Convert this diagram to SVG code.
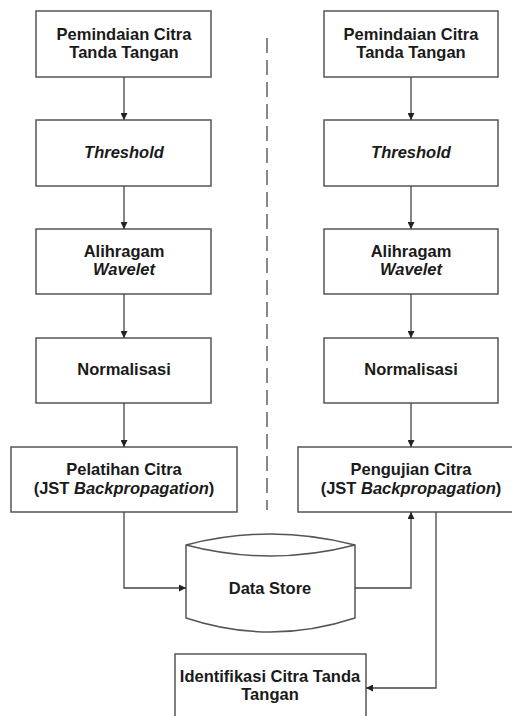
<svg xmlns="http://www.w3.org/2000/svg" width="512" height="716" viewBox="0 0 512 716">
<style>
.box{fill:#fff;stroke:#555;stroke-width:1.5}
.t{font-family:"Liberation Sans",Arial,sans-serif;font-weight:bold;font-size:16.5px;fill:#1a1a1a;text-anchor:middle}
.i{font-style:italic}
.c{fill:none;stroke:#444;stroke-width:1.3}
</style>
<defs>
<marker id="ah" viewBox="0 0 10 10" refX="10" refY="5" markerWidth="7" markerHeight="7" markerUnits="userSpaceOnUse" orient="auto">
<path d="M0,0 L10,5 L0,10 z" fill="#222"/>
</marker>
</defs>
<rect width="512" height="716" fill="#fff"/>
<line x1="267" y1="38" x2="267" y2="510" stroke="#888" stroke-width="2" stroke-dasharray="15,7"/>

<g id="L1"><rect class="box" x="36" y="11" width="175" height="66"/>
<text class="t" x="124" y="40">Pemindaian Citra</text><text class="t" x="124" y="58">Tanda Tangan</text></g>
<g id="L2"><rect class="box" x="36" y="120" width="175" height="66"/>
<text class="t i" x="124" y="158">Threshold</text></g>
<g id="L3"><rect class="box" x="36" y="229" width="175" height="65"/>
<text class="t" x="124" y="257">Alihragam</text><text class="t i" x="124" y="275">Wavelet</text></g>
<g id="L4"><rect class="box" x="36" y="338" width="175" height="65"/>
<text class="t" x="124" y="375">Normalisasi</text></g>
<g id="L5"><rect class="box" x="11" y="447" width="226" height="65"/>
<text class="t" x="124" y="475">Pelatihan Citra</text><text class="t" x="124" y="494">(JST <tspan class="i">Backpropagation</tspan>)</text></g>

<g id="R1"><rect class="box" x="324" y="11" width="174" height="66"/>
<text class="t" x="411" y="40">Pemindaian Citra</text><text class="t" x="411" y="58">Tanda Tangan</text></g>
<g id="R2"><rect class="box" x="324" y="120" width="174" height="66"/>
<text class="t i" x="411" y="158">Threshold</text></g>
<g id="R3"><rect class="box" x="324" y="229" width="174" height="65"/>
<text class="t" x="411" y="257">Alihragam</text><text class="t i" x="411" y="275">Wavelet</text></g>
<g id="R4"><rect class="box" x="324" y="338" width="174" height="65"/>
<text class="t" x="411" y="375">Normalisasi</text></g>
<g id="R5"><rect class="box" x="298" y="447" width="226" height="65"/>
<text class="t" x="411" y="475">Pengujian Citra</text><text class="t" x="411" y="494">(JST <tspan class="i">Backpropagation</tspan>)</text></g>

<g id="DS">
<path class="box" d="M186,545 Q270,523 355,545 L355,618 Q270,646 186,618 Z"/>
<path fill="none" stroke="#555" stroke-width="1.5" d="M186,545 Q270,567 355,545"/>
<text class="t" x="270" y="594">Data Store</text></g>

<g id="ID"><rect class="box" x="175" y="654" width="191" height="70"/>
<text class="t" x="270" y="682">Identifikasi Citra Tanda</text><text class="t" x="270" y="700">Tangan</text></g>

<g id="connectors">
<line class="c" x1="124" y1="77" x2="124" y2="120" marker-end="url(#ah)"/>
<line class="c" x1="124" y1="186" x2="124" y2="229" marker-end="url(#ah)"/>
<line class="c" x1="124" y1="294" x2="124" y2="338" marker-end="url(#ah)"/>
<line class="c" x1="124" y1="403" x2="124" y2="447" marker-end="url(#ah)"/>
<line class="c" x1="411" y1="77" x2="411" y2="120" marker-end="url(#ah)"/>
<line class="c" x1="411" y1="186" x2="411" y2="229" marker-end="url(#ah)"/>
<line class="c" x1="411" y1="294" x2="411" y2="338" marker-end="url(#ah)"/>
<line class="c" x1="411" y1="403" x2="411" y2="447" marker-end="url(#ah)"/>
<polyline class="c" points="124,512 124,588 186,588" marker-end="url(#ah)"/>
<polyline class="c" points="355,588 411,588 411,512" marker-end="url(#ah)"/>
<polyline class="c" points="436,512 436,688 366,688" marker-end="url(#ah)"/>
</g>
</svg>
